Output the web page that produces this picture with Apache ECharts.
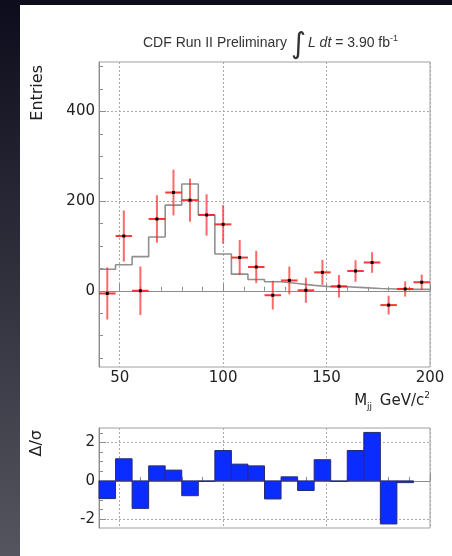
<!DOCTYPE html>
<html>
<head>
<meta charset="utf-8">
<script src="https://cdn.jsdelivr.net/npm/echarts@6/dist/echarts.min.js"></script>
<style>
  html, body { margin: 0; padding: 0; background: #fff; }
  #chart { width: 452px; height: 556px; }
</style>
</head>
<body>
<div id="chart"></div>
<script>
// bins of M_jj (GeV/c^2), 8 GeV wide
const binCenters = [44, 52, 60, 68, 76, 84, 92, 100, 108, 116, 124, 132, 140, 148, 156, 164, 172, 180, 188, 196];
const binHalfWidth = 4;

// data points (red) and their errors
const dataValues = [-6, 122, 0, 160, 219, 202, 169, 148, 74, 53, -10, 23, 1, 41, 10, 44, 63, -32, 4, 19];
const dataErrors = [58, 57, 54, 53, 51, 48, 46, 43, 39, 36, 32, 31, 28, 28, 25, 24, 23, 21, 17, 17];

// expectation (grey histogram)
const modelValues = [48, 58, 76, 120, 191, 238, 169, 82, 37, 25, 20, 16, 12, 9, 9, 7, 5, 4, 3, 3];

// residuals Delta/sigma (blue bars)
const pullValues = [-0.92, 1.15, -1.43, 0.78, 0.56, -0.77, -0.02, 1.58, 0.87, 0.78, -0.94, 0.21, -0.5, 1.1, -0.03, 1.58, 2.52, -2.24, -0.09, null];

const xMajorTicks = [50, 100, 150, 200];
const xMinorTicks = [60, 70, 80, 90, 110, 120, 130, 140, 160, 170, 180, 190];
const yMajorTicks = [0, 200, 400];
const yMinorTicks = [-150, -100, -50, 50, 100, 150, 250, 300, 350, 450, 500];
const pullMajorTicks = [-2, 0, 2];
const pullMinorTicks = [-1.5, -1, -0.5, 0.5, 1, 1.5, 2.5];

const chart = echarts.init(document.getElementById('chart'));

const labelFont = 'DejaVu Sans';
const gridLine = { show: true, lineStyle: { color: '#aaaaaa', type: [2, 2], width: 1 } };
const axisLineStyle = { show: true, lineStyle: { color: '#8c8c8c', width: 1 } };

function majorX(gridIndex, showLabels) {
  return {
    type: 'value', gridIndex: gridIndex, position: 'bottom', min: 40, max: 200,
    axisLine: axisLineStyle,
    axisTick: { show: true, inside: true, length: 7, customValues: xMajorTicks, lineStyle: { color: '#8c8c8c' } },
    axisLabel: { show: showLabels, customValues: xMajorTicks, margin: 4, fontSize: 15, fontFamily: labelFont, color: '#222' },
    splitLine: gridLine
  };
}
function minorX(gridIndex) {
  return {
    type: 'value', gridIndex: gridIndex, position: 'bottom', offset: 0, min: 40, max: 200,
    axisLine: { show: false },
    axisTick: { show: true, inside: true, length: 4, customValues: xMinorTicks, lineStyle: { color: '#8c8c8c' } },
    axisLabel: { show: false },
    splitLine: { show: false }
  };
}
function majorY(gridIndex, min, max, ticks) {
  return {
    type: 'value', gridIndex: gridIndex, position: 'left', min: min, max: max,
    axisLine: axisLineStyle,
    axisTick: { show: true, inside: true, length: 7, customValues: ticks, lineStyle: { color: '#8c8c8c' } },
    axisLabel: { customValues: ticks, margin: 4, fontSize: 15, fontFamily: labelFont, color: '#222' },
    splitLine: gridLine
  };
}
function minorY(gridIndex, min, max, ticks) {
  return {
    type: 'value', gridIndex: gridIndex, position: 'left', offset: 0, min: min, max: max,
    axisLine: { show: false },
    axisTick: { show: true, inside: true, length: 4, customValues: ticks, lineStyle: { color: '#8c8c8c' } },
    axisLabel: { show: false },
    splitLine: { show: false }
  };
}

const stepData = binCenters.map((c, i) => [c - binHalfWidth, modelValues[i]]);
stepData.push([binCenters[binCenters.length - 1] + binHalfWidth, modelValues[modelValues.length - 1]]);

const option = {
  animation: false,
  backgroundColor: '#fff',
  graphic: [
    {
      type: 'rect', z: -10, silent: true,
      shape: { x: 0, y: 0, width: 452, height: 556 },
      style: { fill: new echarts.graphic.LinearGradient(0, 0, 0, 1, [
        { offset: 0, color: '#0c0c1c' }, { offset: 1, color: '#55555f' }
      ]) }
    },
    { type: 'rect', z: -9, silent: true, shape: { x: 20, y: 5, width: 432, height: 551 }, style: { fill: '#fff' } },
    {
      type: 'text', x: 38, y: 65, rotation: Math.PI / 2,
      style: { text: 'Entries', align: 'right', verticalAlign: 'middle', font: '16px "DejaVu Sans"', fill: '#222' }
    },
    {
      type: 'text', x: 37, y: 430, rotation: Math.PI / 2,
      style: { text: 'Δ/σ', align: 'right', verticalAlign: 'middle', font: '16px "DejaVu Sans"', fill: '#222' }
    },
    {
      type: 'text', x: 430, y: 401,
      style: {
        text: 'M{sub|jj} GeV/c{sup|2}', align: 'right', verticalAlign: 'middle',
        font: '15px "DejaVu Sans"', fill: '#222',
        rich: {
          sub: { fontSize: 9, fontFamily: 'DejaVu Sans', fill: '#222', padding: [12, 3, 0, 0] },
          sup: { fontSize: 9, fontFamily: 'DejaVu Sans', fill: '#222', padding: [0, 0, 10, 0] }
        }
      }
    },
    {
      type: 'text', x: 143, y: 43,
      style: {
        text: 'CDF Run II Preliminary {int|∫}{it|L dt} = 3.90 fb{sup|-1}', align: 'left', verticalAlign: 'middle',
        font: '14px "Liberation Sans"', fill: '#333',
        rich: {
          int: { fontSize: 29, fontFamily: 'DejaVu Sans', fill: '#333', padding: [4, 2, 0, 0] },
          it: { fontSize: 14, fontFamily: 'Liberation Sans', fontStyle: 'italic', fill: '#333' },
          sup: { fontSize: 9, fontFamily: 'Liberation Sans', fill: '#333', padding: [0, 0, 9, 0] }
        }
      }
    }
  ],
  grid: [
    { left: 99, top: 62, width: 331, height: 305, show: true, borderColor: '#a0a0a0', borderWidth: 1, backgroundColor: 'transparent' },
    { left: 99, top: 428, width: 331, height: 100, show: true, borderColor: '#a0a0a0', borderWidth: 1, backgroundColor: 'transparent' }
  ],
  xAxis: [majorX(0, true), minorX(0), majorX(1, false), minorX(1)],
  yAxis: [
    majorY(0, -170, 510, yMajorTicks), minorY(0, -170, 510, yMinorTicks),
    majorY(1, -2.45, 2.75, pullMajorTicks), minorY(1, -2.45, 2.75, pullMinorTicks)
  ],
  series: [
    {
      name: 'expected', type: 'line', xAxisIndex: 0, yAxisIndex: 0, step: 'end',
      data: stepData, symbol: 'none', lineStyle: { color: '#909090', width: 1.6 }, z: 3
    },
    {
      name: 'data', type: 'custom', xAxisIndex: 0, yAxisIndex: 0, z: 4,
      data: binCenters.map((c, i) => [c, dataValues[i], dataErrors[i]]),
      encode: { x: 0, y: 1 },
      renderItem: function (params, api) {
        const x = api.value(0), y = api.value(1), e = api.value(2);
        const p = api.coord([x, y]);
        const lo = api.coord([x - binHalfWidth, y - e]);
        const hi = api.coord([x + binHalfWidth, y + e]);
        return {
          type: 'group',
          children: [
            { type: 'line', shape: { x1: p[0], y1: hi[1], x2: p[0], y2: lo[1] }, style: { stroke: 'rgba(255, 40, 40, 0.7)', lineWidth: 2 } },
            { type: 'line', shape: { x1: lo[0], y1: p[1], x2: hi[0], y2: p[1] }, style: { stroke: 'rgba(255, 20, 20, 0.85)', lineWidth: 2 } },
            { type: 'rect', shape: { x: p[0] - 1.5, y: p[1] - 1.5, width: 3, height: 3 }, style: { fill: '#000' } }
          ]
        };
      }
    },
    {
      name: 'pull', type: 'custom', xAxisIndex: 2, yAxisIndex: 2, z: 4,
      data: binCenters.map((c, i) => [c, pullValues[i]]).filter(d => d[1] !== null),
      encode: { x: 0, y: 1 },
      renderItem: function (params, api) {
        const x = api.value(0), v = api.value(1);
        const a = api.coord([x - binHalfWidth, 0]);
        const b = api.coord([x + binHalfWidth, v]);
        return {
          type: 'rect',
          shape: { x: a[0], y: Math.min(a[1], b[1]), width: b[0] - a[0], height: Math.max(Math.abs(b[1] - a[1]), 0.5) },
          style: { fill: '#0b2cff', stroke: '#2a2a70', lineWidth: 1 }
        };
      }
    }
  ]
};

chart.setOption(option);
</script>
</body>
</html>
